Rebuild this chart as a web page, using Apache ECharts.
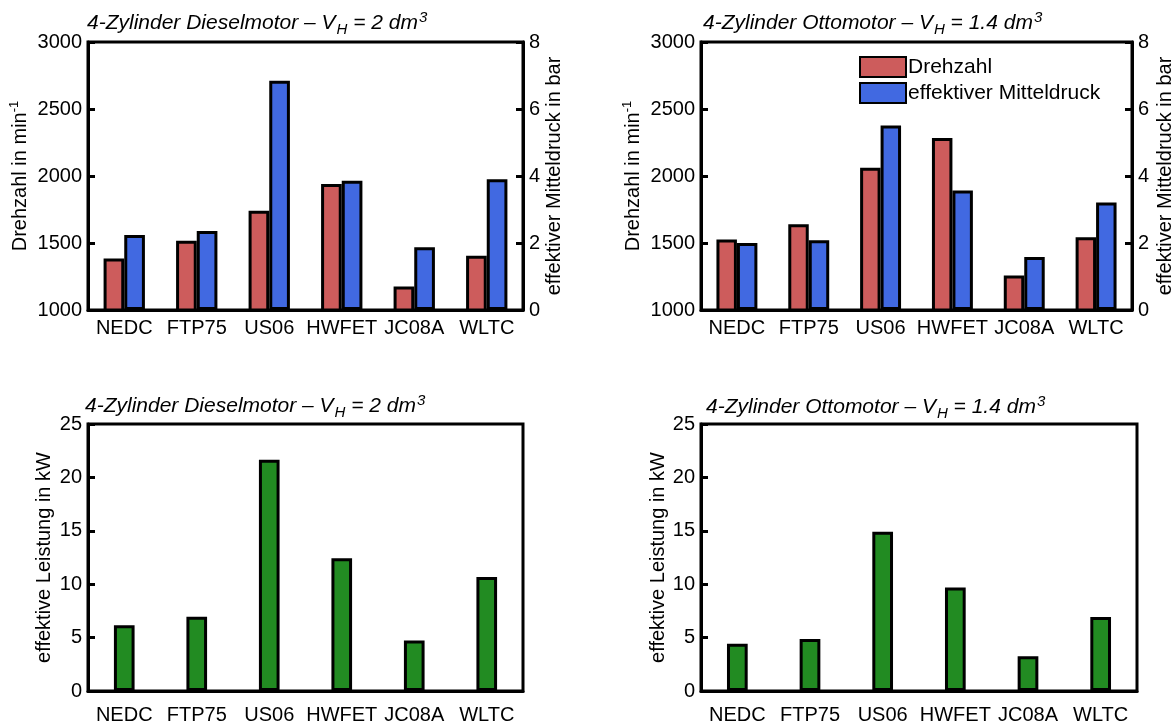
<!DOCTYPE html>
<html>
<head>
<meta charset="utf-8">
<script src="https://cdn.jsdelivr.net/npm/echarts@6/dist/echarts.min.js"></script>
<style>
  html, body { margin: 0; padding: 0; background: #fff; }
  #chart { width: 1176px; height: 725px; }
</style>
</head>
<body>
<div id="chart"></div>
<script>
// Fahrzyklen
const categories = ['NEDC', 'FTP75', 'US06', 'HWFET', 'JC08A', 'WLTC'];

// Dieselmotor (2 dm³)
const dieselDrehzahl = [1385, 1516, 1740, 1940, 1176, 1404];
const dieselMitteldruck = [2.24, 2.36, 6.84, 3.86, 1.87, 3.90];
const dieselLeistung = [6.16, 6.96, 21.66, 12.44, 4.73, 10.67];

// Ottomotor (1.4 dm³)
const ottoDrehzahl = [1526, 1640, 2062, 2283, 1258, 1543];
const ottoMitteldruck = [2.0, 2.08, 5.51, 3.57, 1.58, 3.21];
const ottoLeistung = [4.42, 4.86, 14.91, 9.68, 3.25, 6.93];

// Beschriftungen
const titleDiesel = ['4-Zylinder Dieselmotor – V', 'H', ' = 2 dm', '3'];
const titleOtto = ['4-Zylinder Ottomotor – V', 'H', ' = 1.4 dm', '3'];
const nameDrehzahl = ['Drehzahl in min', '-1'];
const nameMitteldruck = 'effektiver Mitteldruck in bar';
const nameLeistung = 'effektive Leistung in kW';
const seriesNames = ['Drehzahl', 'effektiver Mitteldruck'];

const FONT = 'Liberation Sans, Arial, sans-serif';
const RED = '#CD5C5C', BLUE = '#4169E1', GREEN = '#228B22';
const LW = 3;
const FS = 20;

const grids = [
  { left: 88, top: 42, width: 435, height: 268 },
  { left: 701, top: 42, width: 436, height: 268 },
  { left: 88, top: 424, width: 435, height: 269 },
  { left: 701, top: 424, width: 436, height: 269 }
].map(g => Object.assign({ show: true, borderColor: '#000', borderWidth: LW, backgroundColor: 'transparent' }, g));

function richTitle(parts, left, top) {
  const base = { fontFamily: FONT, fontStyle: 'italic', fontWeight: 'normal', color: '#000' };
  return {
    left: left, top: top, padding: 0,
    text: '{i|' + parts[0] + '}{s|' + parts[1] + '}{i|' + parts[2] + '}{p|' + parts[3] + '}',
    textStyle: {
      fontWeight: 'normal',
      rich: {
        i: Object.assign({ fontSize: 21 }, base),
        s: Object.assign({ fontSize: 15, padding: [13, 0, 0, 1] }, base),
        p: Object.assign({ fontSize: 15, padding: [0, 0, 11, 1] }, base)
      }
    }
  };
}

function xAxis(gi, margin) {
  return {
    type: 'category', gridIndex: gi, data: categories,
    axisLine: { lineStyle: { color: '#000', width: LW } },
    axisTick: { show: false },
    axisLabel: { color: '#000', fontSize: FS, fontFamily: FONT, margin: margin, interval: 0 }
  };
}

function yAxis(gi, opts) {
  return Object.assign({
    type: 'value', gridIndex: gi,
    splitLine: { show: false },
    axisLine: { show: true, lineStyle: { color: '#000', width: LW } },
    axisTick: { show: true, inside: true, length: 7, lineStyle: { color: '#000', width: LW } },
    axisLabel: { color: '#000', fontSize: FS, fontFamily: FONT, margin: 6, formatter: v => String(v) },
    nameLocation: 'middle',
    nameTextStyle: { color: '#000', fontSize: FS, fontFamily: FONT }
  }, opts);
}

const drehzahlName = {
  name: '{a|' + nameDrehzahl[0] + '}{b|' + nameDrehzahl[1] + '}',
  nameRotate: 90,
  nameTextStyle: {
    rich: {
      a: { color: '#000', fontSize: FS, fontFamily: FONT },
      b: { color: '#000', fontSize: 13, fontFamily: FONT, padding: [0, 0, 11, 0] }
    }
  }
};

const yAxes = [
  yAxis(0, Object.assign({ min: 1000, max: 3000, interval: 500, position: 'left', nameGap: 56 }, drehzahlName)),
  yAxis(0, { min: 0, max: 8, interval: 2, position: 'right', name: nameMitteldruck, nameRotate: 90, nameGap: 21 }),
  yAxis(1, Object.assign({ min: 1000, max: 3000, interval: 500, position: 'left', nameGap: 56 }, drehzahlName)),
  yAxis(1, { min: 0, max: 8, interval: 2, position: 'right', name: nameMitteldruck, nameRotate: 90, nameGap: 23 }),
  yAxis(2, { min: 0, max: 25, interval: 5, position: 'left', name: nameLeistung, nameRotate: 90, nameGap: 34 }),
  yAxis(3, { min: 0, max: 25, interval: 5, position: 'left', name: nameLeistung, nameRotate: 90, nameGap: 30 })
];

function bar(name, data, xi, yi, color) {
  return {
    type: 'bar', name: name, data: data,
    xAxisIndex: xi, yAxisIndex: yi,
    barWidth: '28.5%', barGap: '0%',
    clip: true,
    itemStyle: { color: color, borderColor: '#000', borderWidth: LW },
    emphasis: { disabled: true },
    animation: false
  };
}

const option = {
  animation: false,
  backgroundColor: '#fff',
  textStyle: { fontFamily: FONT },
  title: [
    richTitle(titleDiesel, 87, 9),
    richTitle(titleOtto, 703, 9),
    richTitle(titleDiesel, 85, 392),
    richTitle(titleOtto, 706, 393)
  ],
  legend: {
    data: seriesNames,
    left: 859, top: 56, padding: 0,
    orient: 'vertical',
    itemWidth: 46, itemHeight: 20, itemGap: 4,
    icon: 'rect',
    itemStyle: { borderColor: '#000', borderWidth: 2 },
    textStyle: { color: '#000', fontSize: 21, fontFamily: FONT, padding: [0, 0, 0, -3] },
    selectedMode: false
  },
  grid: grids,
  xAxis: [xAxis(0, 8), xAxis(1, 8), xAxis(2, 14), xAxis(3, 14)],
  yAxis: yAxes,
  series: [
    bar(seriesNames[0], dieselDrehzahl, 0, 0, RED),
    bar(seriesNames[1], dieselMitteldruck, 0, 1, BLUE),
    bar(seriesNames[0], ottoDrehzahl, 1, 2, RED),
    bar(seriesNames[1], ottoMitteldruck, 1, 3, BLUE),
    bar('Leistung Diesel', dieselLeistung, 2, 4, GREEN),
    bar('Leistung Otto', ottoLeistung, 3, 5, GREEN)
  ]
};

const chart = echarts.init(document.getElementById('chart'), null, { renderer: 'canvas' });
chart.setOption(option);
</script>
</body>
</html>
